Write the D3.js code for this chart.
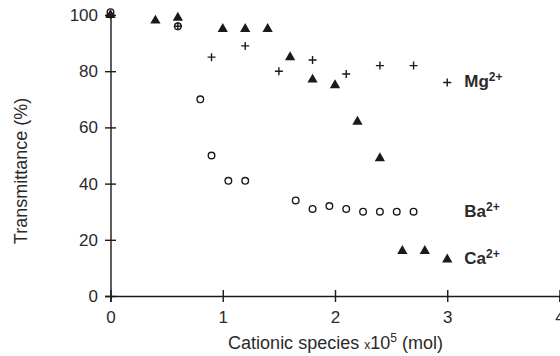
<!DOCTYPE html>
<html>
<head>
<meta charset="utf-8">
<script src="https://cdn.jsdelivr.net/npm/d3@7"></script>
<style>
  html, body { margin: 0; padding: 0; background: #fff; }
  svg { display: block; font-family: "Liberation Sans", Arial, sans-serif; }
</style>
</head>
<body>
<svg id="chart" width="560" height="356"></svg>
<script>
// Cationic species added (x10^5 mol) and the measured transmittance (%)
const mgX = [0, 0.6, 0.9, 1.2, 1.5, 1.8, 2.1, 2.4, 2.7, 3.0];
const mgY = [100, 96, 85, 89, 80, 84, 79, 82, 82, 76];

const baX = [0, 0.6, 0.8, 0.9, 1.05, 1.2, 1.65, 1.8, 1.95, 2.1, 2.25, 2.4, 2.55, 2.7];
const baY = [101, 96, 70, 50, 41, 41, 34, 31, 32, 31, 30, 30, 30, 30];

const caX = [0, 0.4, 0.6, 1.0, 1.2, 1.4, 1.6, 1.8, 2.0, 2.2, 2.4, 2.6, 2.8, 3.0];
const caY = [100, 98, 99, 95, 95, 95, 85, 77, 75, 62, 49, 16, 16, 13];

const xTicks = [0, 1, 2, 3, 4];
const yTicks = [0, 20, 40, 60, 80, 100];
const seriesNames = ["Mg", "Ba", "Ca"];

const ink = "#1a1a1a";
const svg = d3.select("#chart");

const x = d3.scaleLinear().domain([0, 4]).range([110.5, 559.5]);
const y = d3.scaleLinear().domain([0, 100]).range([296, 15]);

// Axes with ticks that cross the axis line
const gx = svg.append("g").attr("transform", `translate(0,${y(0)})`)
  .call(d3.axisBottom(x).tickValues(xTicks).tickFormat(d3.format("d"))
        .tickSizeOuter(0).tickSize(6).tickPadding(9));
gx.selectAll(".tick line").attr("y1", -6);

const gy = svg.append("g").attr("transform", `translate(${x(0)},0)`)
  .call(d3.axisLeft(y).tickValues(yTicks).tickFormat(d3.format("d"))
        .tickSizeOuter(0).tickSize(5.5).tickPadding(7));
gy.selectAll(".tick line").attr("x1", 5.5);

svg.selectAll(".domain, .tick line").attr("stroke", ink).attr("stroke-width", 1.4);
svg.selectAll(".tick text").attr("fill", "#2a2a2a")
  .style("font-size", "17px").style("font-family", "'Liberation Sans', Arial, sans-serif");

// Axis titles
svg.append("text")
  .attr("transform", `translate(27,171) rotate(-90)`)
  .attr("text-anchor", "middle").attr("fill", "#2a2a2a").style("font-size", "18px")
  .text("Transmittance (%)");

const xt = svg.append("text")
  .attr("x", (x(0) + x(4)) / 2 + 0.5).attr("y", 349)
  .attr("text-anchor", "middle").attr("fill", "#2a2a2a").style("font-size", "18px");
xt.append("tspan").text("Cationic species ");
xt.append("tspan").style("font-size", "12px").text("x");
xt.append("tspan").text("10");
xt.append("tspan").attr("dy", -7).style("font-size", "12px").text("5");
xt.append("tspan").attr("dy", 7).text(" (mol)");

// Markers
const zipXY = (xs, ys) => xs.map((v, i) => [v, ys[i]]);

svg.append("g").selectAll("path").data(zipXY(mgX, mgY)).join("path")
  .attr("d", d => {
    const cx = x(d[0]), cy = y(d[1]), h = 4;
    return `M${cx - h},${cy}H${cx + h}M${cx},${cy - h}V${cy + h}`;
  })
  .attr("stroke", ink).attr("stroke-width", 1.4).attr("fill", "none");

svg.append("g").selectAll("circle").data(zipXY(baX, baY)).join("circle")
  .attr("cx", d => x(d[0])).attr("cy", d => y(d[1])).attr("r", 3.3)
  .attr("fill", "none").attr("stroke", ink).attr("stroke-width", 1.4);

const tri = d3.symbol().type(d3.symbolTriangle).size(46);
svg.append("g").selectAll("path").data(zipXY(caX, caY)).join("path")
  .attr("transform", d => `translate(${x(d[0])},${y(d[1])})`)
  .attr("d", tri).attr("fill", ink);

// Series labels next to the last point of each series
const lastY = { Mg: mgY[mgY.length - 1], Ba: baY[baY.length - 1], Ca: caY[caY.length - 1] };
seriesNames.forEach(name => {
  const t = svg.append("text")
    .attr("x", x(3) + 17).attr("y", y(lastY[name]) + 5)
    .attr("fill", "#2a2a2a").style("font-size", "17px").style("font-weight", "bold");
  t.append("tspan").text(name);
  t.append("tspan").attr("dy", -6).style("font-size", "12px").text("2+");
});
</script>
</body>
</html>
